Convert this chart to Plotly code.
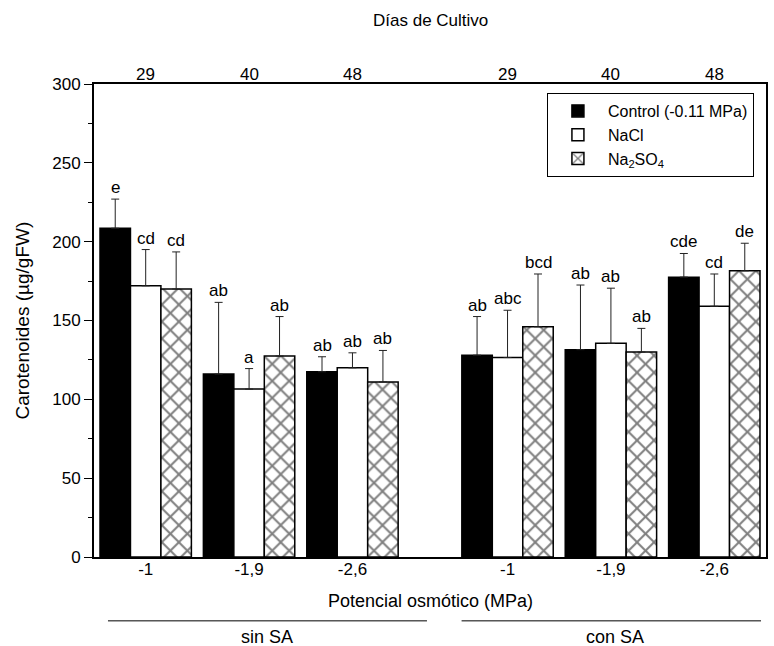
import plotly.graph_objects as go

# ---- data ----
positions = [0, 1, 2, 3.5, 4.5, 5.5]
potential_labels = ["-1", "-1,9", "-2,6", "-1", "-1,9", "-2,6"]
day_labels = ["29", "40", "48", "29", "40", "48"]

control = [208.5, 116, 117.5, 128, 131.5, 177.5]
control_err = [18.5, 45.5, 9.5, 24.5, 41, 15]
control_letters = ["e", "ab", "ab", "ab", "ab", "cde"]

nacl = [172, 106.5, 120, 126.5, 135.5, 159]
nacl_err = [23, 13, 9.5, 30, 35, 20.5]
nacl_letters = ["cd", "a", "ab", "abc", "ab", "cd"]

na2so4 = [170, 127.5, 111, 146, 130, 181.5]
na2so4_err = [23.5, 25, 20, 33.5, 15, 17.5]
na2so4_letters = ["cd", "ab", "ab", "bcd", "ab", "de"]

FONT = "Liberation Sans, Arial, sans-serif"
BARGAP = 0.116
bw = (1 - BARGAP) / 3

fig = go.Figure()

series = [
    ("Control (-0.11 MPa)", control, control_err, control_letters,
     dict(color="black", line=dict(color="black", width=1.5))),
    ("NaCl", nacl, nacl_err, nacl_letters,
     dict(color="white", line=dict(color="black", width=1.5))),
    ("Na<sub>2</sub>SO<sub>4</sub>", na2so4, na2so4_err, na2so4_letters,
     dict(color="white", line=dict(color="black", width=1.5),
          pattern=dict(shape="x", size=12, solidity=0.3,
                       fgcolor="black", bgcolor="white", fillmode="overlay"))),
]

for name, vals, errs, letters, marker in series:
    fig.add_trace(go.Bar(
        name=name, x=positions, y=vals, marker=marker,
        error_y=dict(type="data", array=errs, arrayminus=[0] * len(errs),
                     symmetric=False, color="#222", thickness=1, width=4),
    ))

# letter annotations
for k, (name, vals, errs, letters, marker) in enumerate(series):
    off = (k - 1) * bw
    for p, v, e, t in zip(positions, vals, errs, letters):
        fig.add_annotation(x=p + off, y=v + e, text=t, showarrow=False,
                           xref="x", yref="y", yanchor="bottom", yshift=0,
                           font=dict(family=FONT, size=17, color="black"))

# top "days" labels
for p, t in zip(positions, day_labels):
    fig.add_annotation(x=p, y=1.021, xref="x", yref="paper", text=t,
                       showarrow=False, xanchor="center", yanchor="middle",
                       font=dict(family=FONT, size=17))

fig.update_layout(
    width=774, height=646,
    margin=dict(l=94, r=6, t=84, b=89),
    paper_bgcolor="white", plot_bgcolor="white",
    barmode="group", bargap=BARGAP, bargroupgap=0,
    font=dict(family=FONT, size=16, color="black"),
    showlegend=True,
    legend=dict(x=0.674, y=0.981, xanchor="left", yanchor="top",
                bordercolor="black", borderwidth=1, bgcolor="white",
                itemwidth=50,
                font=dict(family=FONT, size=16), tracegroupgap=0),
    xaxis=dict(range=[-0.5, 6.0], tickmode="array", tickvals=positions,
               ticktext=potential_labels, ticks="", ticklabelstandoff=-4,
               showgrid=False, zeroline=False,
               showline=True, linecolor="black", linewidth=1.5, mirror=True,
               tickfont=dict(family=FONT, size=17)),
    yaxis=dict(range=[0, 300], tickmode="linear", dtick=50, tick0=0,
               ticks="outside", ticklen=8, tickwidth=1.2, tickcolor="black",
               minor=dict(dtick=25, ticks="outside", ticklen=4,
                          tickcolor="black", tickwidth=1.2),
               showgrid=False, zeroline=False, showline=True,
               linecolor="black", linewidth=2, mirror=True,
               tickfont=dict(family=FONT, size=17)),
)

# texts and group lines
fig.add_annotation(text="Días de Cultivo", x=0.5, y=1.135, xref="paper", yref="paper",
                   xanchor="center", yanchor="middle",
                   showarrow=False, font=dict(family=FONT, size=17))
fig.add_annotation(text="Potencial osmótico (MPa)", x=0.5, y=-0.093, xref="paper",
                   yref="paper", showarrow=False, xanchor="center", yanchor="middle",
                   font=dict(family=FONT, size=18))
fig.add_annotation(text="Carotenoides (µg/gFW)", x=-0.107, y=0.5, xref="paper",
                   yref="paper", showarrow=False, textangle=-90,
                   xanchor="center", yanchor="middle",
                   font=dict(family=FONT, size=19))
fig.add_shape(type="line", xref="paper", yref="paper", x0=0.0208, x1=0.4955,
              y0=-0.135, y1=-0.135, line=dict(color="black", width=1))
fig.add_shape(type="line", xref="paper", yref="paper", x0=0.547, x1=0.9926,
              y0=-0.135, y1=-0.135, line=dict(color="black", width=1))
fig.add_annotation(text="sin SA", x=0.258, y=-0.169, xref="paper", yref="paper",
                   showarrow=False, xanchor="center", yanchor="middle",
                   font=dict(family=FONT, size=18))
fig.add_annotation(text="con SA", x=0.776, y=-0.169, xref="paper", yref="paper",
                   showarrow=False, xanchor="center", yanchor="middle",
                   font=dict(family=FONT, size=18))

fig.write_html("out.html")
